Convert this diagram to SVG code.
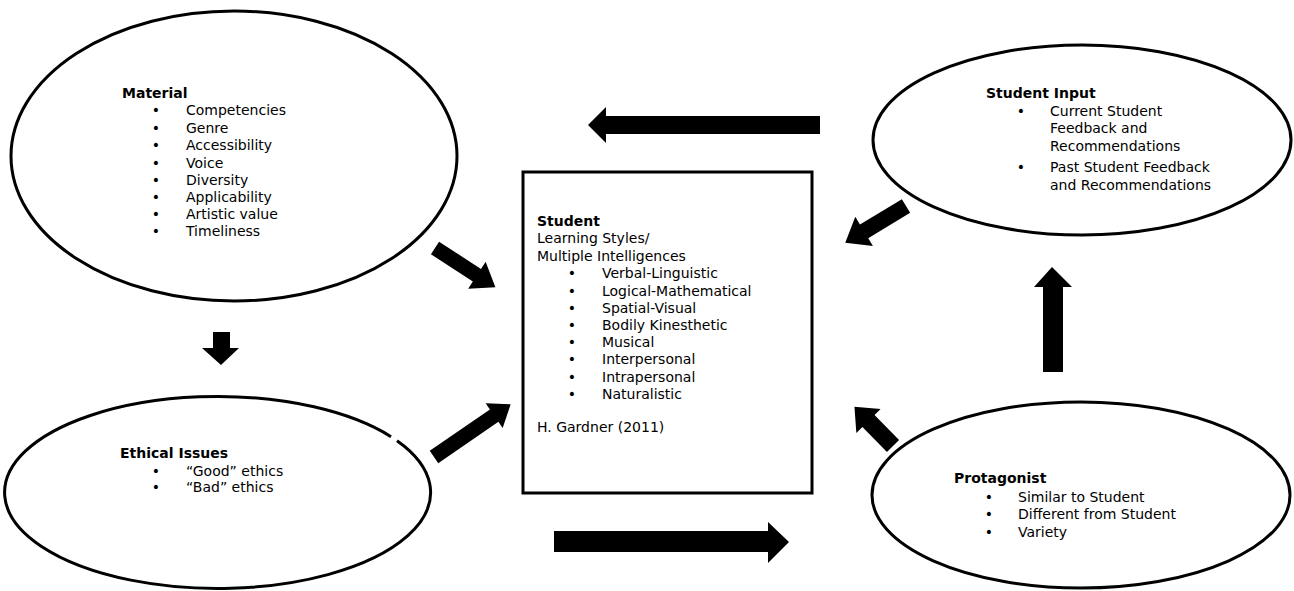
<svg xmlns="http://www.w3.org/2000/svg" width="1294" height="591" viewBox="0 0 1294 591">
<style>
.shape{fill:#fff;stroke:#000;stroke-width:3}
.t{font-family:"DejaVu Sans",Verdana,sans-serif;font-size:14px;fill:#000}
.b{font-weight:bold}
.bl{text-anchor:middle}
.arrow{fill:#000;stroke:none}
</style>
<rect width="1294" height="591" fill="#fff"/>
<g id="material">
<ellipse class="shape" cx="234" cy="156" rx="223" ry="145"/>
<text class="t b" x="122" y="98">Material</text>
<g class="t">
<text class="bl" x="156" y="115">•</text><text x="186" y="115">Competencies</text>
<text class="bl" x="156" y="133">•</text><text x="186" y="133">Genre</text>
<text class="bl" x="156" y="150">•</text><text x="186" y="150">Accessibility</text>
<text class="bl" x="156" y="168">•</text><text x="186" y="168">Voice</text>
<text class="bl" x="156" y="185">•</text><text x="186" y="185">Diversity</text>
<text class="bl" x="156" y="202">•</text><text x="186" y="202">Applicability</text>
<text class="bl" x="156" y="219">•</text><text x="186" y="219">Artistic value</text>
<text class="bl" x="156" y="236">•</text><text x="186" y="236">Timeliness</text>
</g>
</g>
<g id="ethical">
<path class="shape" d="M391,436.7 A213,96 0 1 0 397,440.7"/>
<text class="t b" x="120" y="458">Ethical Issues</text>
<g class="t">
<text class="bl" x="156" y="476">•</text><text x="186" y="476">“Good” ethics</text>
<text class="bl" x="156" y="492">•</text><text x="186" y="492">“Bad” ethics</text>
</g>
</g>
<g id="student">
<rect class="shape" x="523" y="172" width="289" height="321"/>
<g class="t">
<text class="b" x="537" y="226">Student</text>
<text x="537" y="243">Learning Styles/</text>
<text x="537" y="261">Multiple Intelligences</text>
<text class="bl" x="572" y="278">•</text><text x="602" y="278">Verbal-Linguistic</text>
<text class="bl" x="572" y="296">•</text><text x="602" y="296">Logical-Mathematical</text>
<text class="bl" x="572" y="313">•</text><text x="602" y="313">Spatial-Visual</text>
<text class="bl" x="572" y="330">•</text><text x="602" y="330">Bodily Kinesthetic</text>
<text class="bl" x="572" y="347">•</text><text x="602" y="347">Musical</text>
<text class="bl" x="572" y="364">•</text><text x="602" y="364">Interpersonal</text>
<text class="bl" x="572" y="382">•</text><text x="602" y="382">Intrapersonal</text>
<text class="bl" x="572" y="399">•</text><text x="602" y="399">Naturalistic</text>
<text x="537" y="432">H. Gardner (2011)</text>
</g>
</g>
<g id="student-input">
<ellipse class="shape" cx="1082" cy="140" rx="209" ry="95"/>
<g class="t">
<text class="b" x="986" y="98">Student Input</text>
<text class="bl" x="1021" y="116">•</text><text x="1050" y="116">Current Student</text>
<text x="1050" y="133">Feedback and</text>
<text x="1050" y="151">Recommendations</text>
<text class="bl" x="1021" y="172">•</text><text x="1050" y="172">Past Student Feedback</text>
<text x="1050" y="190">and Recommendations</text>
</g>
</g>
<g id="protagonist">
<ellipse class="shape" cx="1081" cy="495" rx="209" ry="93"/>
<g class="t">
<text class="b" x="954" y="483">Protagonist</text>
<text class="bl" x="989" y="502">•</text><text x="1018" y="502">Similar to Student</text>
<text class="bl" x="989" y="519">•</text><text x="1018" y="519">Different from Student</text>
<text class="bl" x="989" y="537">•</text><text x="1018" y="537">Variety</text>
</g>
</g>
<g id="connectors">
<path class="arrow" d="M820,116 H606 V107 L588,125 L606,143 V134 H820 Z"/>
<path class="arrow" d="M554,531 H768 V522 L789,542 L768,563 V552 H554 Z"/>
<path class="arrow" d="M213,332 H230 V348 H239 L221,365 L202,348 H213 Z"/>
<path class="arrow" d="M1043,372 V287 H1034 L1052,267 L1072,287 H1063 V372 Z"/>
<path class="arrow" transform="translate(435,248) rotate(33)" d="M0,-7.5 H50 V-16 L72,0 L50,16 V7.5 H0 Z"/>
<path class="arrow" transform="translate(434,457) rotate(-34.5)" d="M0,-7.5 H73 V-15 L93,0 L73,15 V7.5 H0 Z"/>
<path class="arrow" transform="translate(906,206) rotate(148.8)" d="M0,-8 H49 V-17 L71,0 L49,17 V8 H0 Z"/>
<path class="arrow" transform="translate(893,446) rotate(-134.5)" d="M0,-8.5 H35 V-17 L55,0 L35,17 V8.5 H0 Z"/>
</g>
</svg>
